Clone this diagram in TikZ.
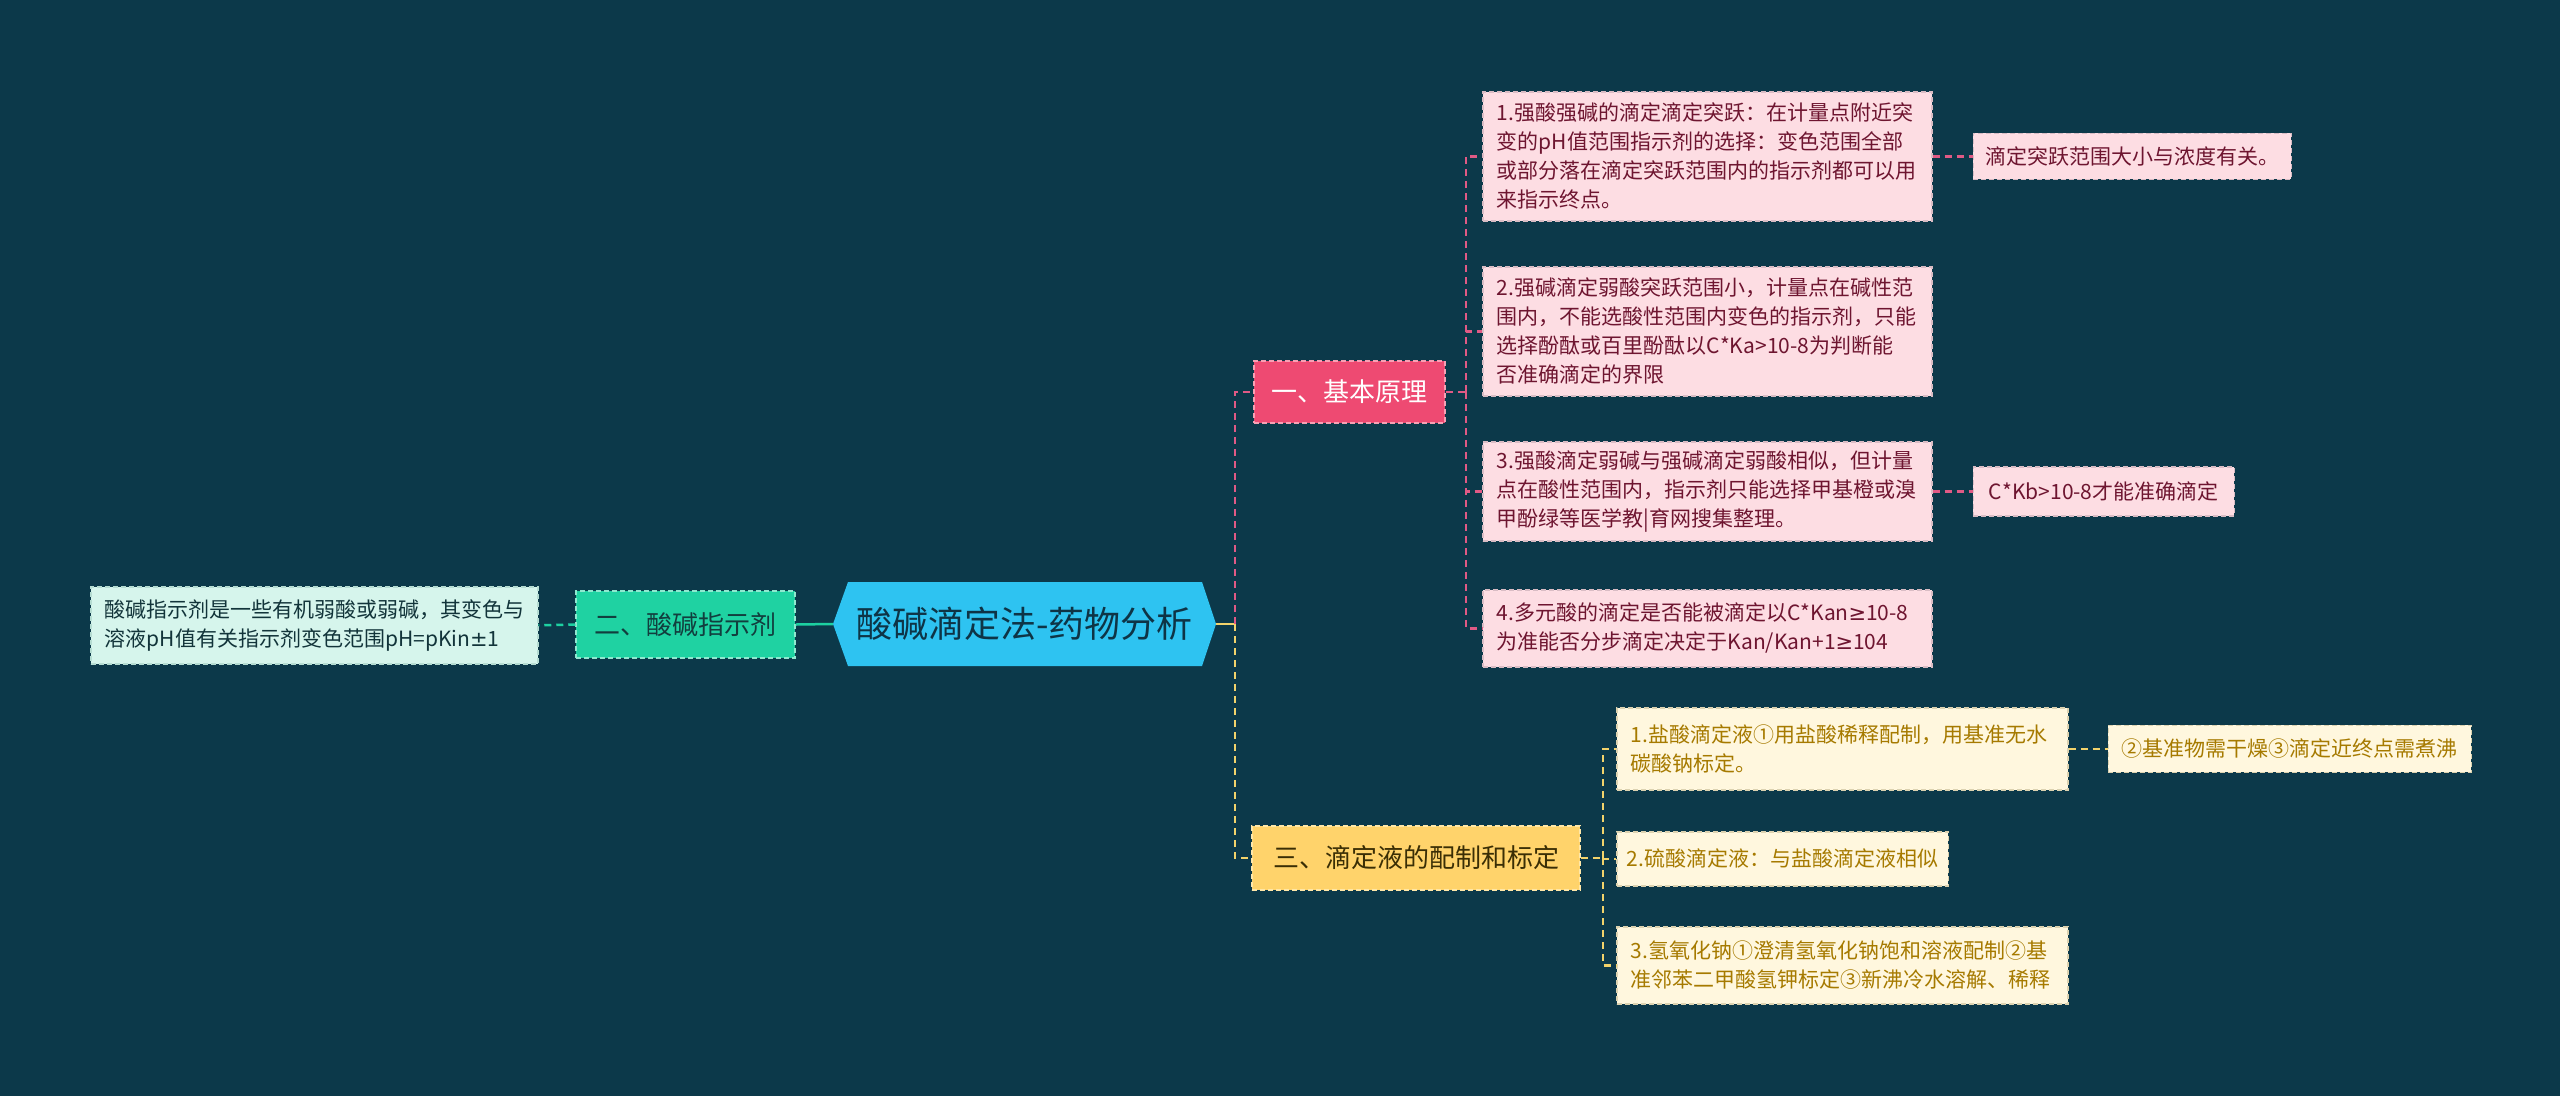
\documentclass[tikz,border=0pt]{standalone}
\usepackage{fontspec}
\setmainfont{Noto Sans CJK SC}
\newfontfamily\symfont{DejaVu Sans}
\newcommand{\geqsym}{{\symfont ≥}}
\newcommand{\pmsym}{{\symfont ±}}
\definecolor{bgc}{HTML}{0C394A}
\definecolor{rootc}{HTML}{2EC3F1}
\definecolor{roottext}{HTML}{0E3446}
\definecolor{redc}{HTML}{EE4A72}
\definecolor{redb}{HTML}{F7A0B4}
\definecolor{greenc}{HTML}{1FD2A2}
\definecolor{greenb}{HTML}{8FE8CF}
\definecolor{greentext}{HTML}{123E3E}
\definecolor{yelc}{HTML}{FFD36B}
\definecolor{yelb}{HTML}{FFE7A8}
\definecolor{yeltext}{HTML}{3A2E05}
\definecolor{pinkleaf}{HTML}{FDDDE3}
\definecolor{pinktext}{HTML}{6E1530}
\definecolor{pinkb}{HTML}{D9BCC4}
\definecolor{mintleaf}{HTML}{D6F5EC}
\definecolor{minttext}{HTML}{12343A}
\definecolor{mintb}{HTML}{B5DCD2}
\definecolor{creamleaf}{HTML}{FFF7DE}
\definecolor{creamtext}{HTML}{A67A00}
\definecolor{creamb}{HTML}{DCD2B0}
\definecolor{pinkline}{HTML}{E05A85}
\definecolor{yelline}{HTML}{F2D36B}
\definecolor{tealline}{HTML}{1DD1A1}
\begin{document}
\begin{tikzpicture}[x=1pt,y=-1pt,
  boxdash/.style={dash pattern=on 5pt off 3pt, line width=1.5pt},
  leaf/.style={boxdash, align=left, inner xsep=14pt, inner ysep=0pt,
    font=\fontsize{21}{29}\selectfont},
  pinkbox/.style={leaf, fill=pinkleaf, draw=pinkb, text=pinktext},
  mintbox/.style={leaf, fill=mintleaf, draw=mintb, text=minttext},
  creambox/.style={leaf, fill=creamleaf, draw=creamb, text=creamtext},
  branch/.style={boxdash, inner sep=0pt, font=\fontsize{26}{32}\selectfont},
  conn/.style={line width=2.5pt, dash pattern=on 7pt off 5pt},
  pinkconn/.style={conn, draw=pinkline},
  yelconn/.style={conn, draw=yelline},
  tealconn/.style={conn, draw=tealline}]
\fill[bgc] (0,0) rectangle (2560,1096);
\useasboundingbox (0,0) rectangle (2560,1096);

% root
\node[minimum width=383pt, minimum height=84pt, inner sep=0pt, text=roottext,
  font=\fontsize{36}{42}\selectfont,
  path picture={\fill[rootc] (path picture bounding box.west)
    -- ([xshift=15pt]path picture bounding box.north west)
    -- ([xshift=-14pt]path picture bounding box.north east)
    -- (path picture bounding box.east)
    -- ([xshift=-14pt]path picture bounding box.south east)
    -- ([xshift=15pt]path picture bounding box.south west) -- cycle;}]
  (root) at (1024.5,624) {酸碱滴定法-药物分析};

% branches
\node[branch, fill=redc, draw=redb, text=white, minimum width=191pt, minimum height=62pt]
  (yi) at (1349.5,392) {一、基本原理};
\node[branch, fill=greenc, draw=greenb, text=greentext, minimum width=219pt, minimum height=67pt]
  (er) at (685.5,624.5) {二、酸碱指示剂};
\node[branch, fill=yelc, draw=yelb, text=yeltext, minimum width=328pt, minimum height=64pt]
  (san) at (1416,858) {三、滴定液的配制和标定};

% left leaf
\node[mintbox, anchor=north west, text width=419pt, minimum height=77pt]
  (lf) at (90,586) {酸碱指示剂是一些有机弱酸或弱碱，其变色与\\溶液pH值有关指示剂变色范围pH=pKin\pmsym1};

% pink leaves
\node[pinkbox, anchor=north west, text width=421pt, minimum height=129pt]
  (p1) at (1482,91) {1.强酸强碱的滴定滴定突跃：在计量点附近突\\变的pH值范围指示剂的选择：变色范围全部\\或部分落在滴定突跃范围内的指示剂都可以用\\来指示终点。};
\node[pinkbox, anchor=north west, text width=421pt, minimum height=129pt]
  (p2) at (1482,266) {2.强碱滴定弱酸突跃范围小，计量点在碱性范\\围内，不能选酸性范围内变色的指示剂，只能\\选择酚酞或百里酚酞以C*Ka>10-8为判断能\\否准确滴定的界限};
\node[pinkbox, anchor=north west, text width=421pt, minimum height=99pt]
  (p3) at (1482,441) {3.强酸滴定弱碱与强碱滴定弱酸相似，但计量\\点在酸性范围内，指示剂只能选择甲基橙或溴\\甲酚绿等医学教|育网搜集整理。};
\node[pinkbox, anchor=north west, text width=421pt, minimum height=77pt]
  (p4) at (1482,589) {4.多元酸的滴定是否能被滴定以C*Kan\geqsym10-8\\为准能否分步滴定决定于Kan/Kan+1\geqsym104};
\node[pinkbox, anchor=west, inner xsep=4pt, minimum width=318pt, minimum height=46pt, align=center]
  (p1c) at ([xshift=40pt]p1.east) {滴定突跃范围大小与浓度有关。};
\node[pinkbox, anchor=west, inner xsep=4pt, minimum width=261pt, minimum height=49pt, align=center]
  (p3c) at ([xshift=40pt]p3.east) {C*Kb>10-8才能准确滴定};

% cream leaves
\node[creambox, anchor=north west, text width=423pt, minimum height=82pt]
  (y1) at (1616,707) {1.盐酸滴定液①用盐酸稀释配制，用基准无水\\碳酸钠标定。};
\node[creambox, anchor=north west, inner xsep=10pt, minimum height=54pt]
  (y2) at (1616,831) {2.硫酸滴定液：与盐酸滴定液相似};
\node[creambox, anchor=north west, text width=423pt, minimum height=77pt]
  (y3) at (1616,926) {3.氢氧化钠①澄清氢氧化钠饱和溶液配制②基\\准邻苯二甲酸氢钾标定③新沸冷水溶解、稀释};
\node[creambox, anchor=west, inner xsep=4pt, minimum width=363pt, minimum height=47pt, align=center]
  (y1c) at ([xshift=39pt]y1.east) {②基准物需干燥③滴定近终点需煮沸};

% connectors
\draw[line width=2.5pt, tealline] (root.west) -- (er.east);
\draw[tealconn] (er.west) -- (lf.east);
\draw[line width=2.5pt, yelline] (root.east) -- ++(19,0) coordinate (bA);
\draw[pinkconn] (bA) |- (yi.west);
\draw[yelconn] (bA) |- (san.west);
\draw[pinkconn] (yi.east) -- ++(20,0) coordinate (bB);
\foreach \n in {p1,p2,p3,p4} \draw[pinkconn] (bB) |- (\n.west);
\draw[pinkconn] (p1.east) -- (p1c.west);
\draw[pinkconn] (p3.east) -- (p3c.west);
\draw[yelconn] (san.east) -- ++(22,0) coordinate (bC);
\foreach \n in {y1,y2,y3} \draw[yelconn] (bC) |- (\n.west);
\draw[yelconn] (y1.east) -- (y1c.west);
\end{tikzpicture}
\end{document}
